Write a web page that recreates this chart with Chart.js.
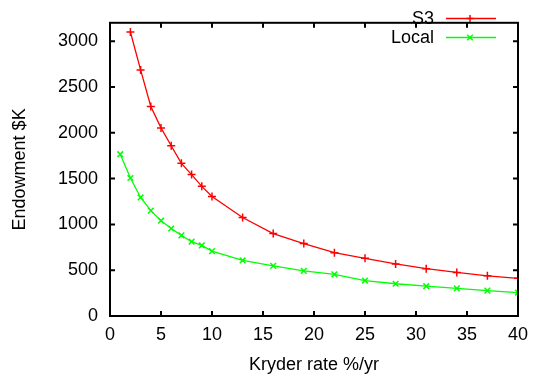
<!DOCTYPE html>
<html><head><meta charset="utf-8">
<script src="https://cdn.jsdelivr.net/npm/chart.js@4.4.1/dist/chart.umd.min.js"></script>
<style>html,body{margin:0;padding:0;background:#fff}#wrap{width:537px;height:376px}</style>
</head><body><div id="wrap"><canvas id="c" width="537" height="376"></canvas></div>
<script>
const s3Rates = [2,3,4,5,6,7,8,9,10,13,16,19,22,25,28,31,34,37,40];
const s3Values = [3100,2686,2286,2053,1858,1666,1543,1415,1304,1075,900,790,691,629,568,516,475,438,411];
const localRates = [1,2,3,4,5,6,7,8,9,10,13,16,19,22,25,28,31,34,37,40];
const localValues = [1766,1506,1294,1150,1040,955,880,811,770,708,606,547,493,455,387,352,325,301,277,256];
const seriesNames = ['S3','Local'];
const xTicks = [0,5,10,15,20,25,30,35,40];
const yTicks = [0,500,1000,1500,2000,2500,3000];

const FONT = 'Liberation Sans, Arial, sans-serif';
const FS = 18;

const frame = {
  id: 'frame',
  afterDatasetsDraw(chart) {
    const ctx = chart.ctx, a = chart.chartArea, xs = chart.scales.x, ys = chart.scales.y;
    ctx.save();
    ctx.strokeStyle = '#000';
    ctx.lineWidth = 2;
    ctx.strokeRect(a.left, a.top, a.right - a.left, a.bottom - a.top);
    const L = 5;
    ctx.beginPath();
    xTicks.forEach(v => {
      const px = xs.getPixelForValue(v);
      ctx.moveTo(px, a.bottom); ctx.lineTo(px, a.bottom - L);
      ctx.moveTo(px, a.top); ctx.lineTo(px, a.top + L);
    });
    yTicks.forEach(v => {
      const py = ys.getPixelForValue(v);
      ctx.moveTo(a.left, py); ctx.lineTo(a.left + L, py);
      ctx.moveTo(a.right, py); ctx.lineTo(a.right - L, py);
    });
    ctx.stroke();
    // legend
    ctx.font = FS + 'px ' + FONT;
    ctx.textAlign = 'right';
    ctx.textBaseline = 'middle';
    chart.data.datasets.forEach((ds, i) => {
      const y = 18.5 + i * 19;
      ctx.fillStyle = '#000';
      ctx.fillText(ds.label, 434, y + 1);
      ctx.strokeStyle = ds.borderColor;
      ctx.lineWidth = 1.5;
      ctx.beginPath(); ctx.moveTo(446, y); ctx.lineTo(496, y); ctx.stroke();
      const r = 3.5;
      ctx.beginPath();
      if (i === 0) {
        ctx.moveTo(470 - r, y); ctx.lineTo(470 + r, y);
        ctx.moveTo(470, y - r); ctx.lineTo(470, y + r);
      } else {
        ctx.moveTo(470 - r*0.8, y - r*0.8); ctx.lineTo(470 + r*0.8, y + r*0.8);
        ctx.moveTo(470 - r*0.8, y + r*0.8); ctx.lineTo(470 + r*0.8, y - r*0.8);
      }
      ctx.stroke();
    });
    ctx.restore();
  }
};

new Chart(document.getElementById('c'), {
  type: 'line',
  data: {
    datasets: [
      { label: seriesNames[0], data: s3Rates.map((x, i) => ({x, y: s3Values[i]})),
        borderColor: '#ff0000', backgroundColor: '#ff0000', borderWidth: 1.3,
        pointStyle: 'cross', pointRadius: 4, pointBorderWidth: 1.5, tension: 0, fill: false },
      { label: seriesNames[1], data: localRates.map((x, i) => ({x, y: localValues[i]})),
        borderColor: '#00ff00', backgroundColor: '#00ff00', borderWidth: 1.3,
        pointStyle: 'crossRot', pointRadius: 4, pointBorderWidth: 1.5, tension: 0, fill: false }
    ]
  },
  options: {
    responsive: false, animation: false,
    layout: { padding: { top: 5, right: 19, left: 0, bottom: 0 } },
    plugins: { legend: { display: false }, tooltip: { enabled: false } },
    scales: {
      x: {
        type: 'linear', min: 0, max: 40,
        afterBuildTicks: s => { s.ticks = xTicks.map(v => ({ value: v })); },
        afterFit: s => { s.height = 60; },
        grid: { display: false, drawTicks: false },
        border: { display: false },
        ticks: { color: '#000', font: { family: FONT, size: FS }, padding: 8, maxRotation: 0, callback: v => String(v) },
        title: { display: true, text: 'Kryder rate %/yr', color: '#000', font: { family: FONT, size: FS }, padding: { top: 2, bottom: 0 } }
      },
      y: {
        type: 'linear', min: 0, max: 3200,
        afterBuildTicks: s => { s.ticks = yTicks.map(v => ({ value: v })); },
        afterFit: s => { s.width = 110; },
        grid: { display: false, drawTicks: false },
        border: { display: false },
        ticks: { color: '#000', font: { family: FONT, size: FS }, padding: 12, callback: v => String(v) },
        title: { display: true, text: 'Endowment $K', color: '#000', font: { family: FONT, size: FS }, padding: { top: 9, bottom: 0 } }
      }
    }
  },
  plugins: [frame]
});
</script></body></html>
